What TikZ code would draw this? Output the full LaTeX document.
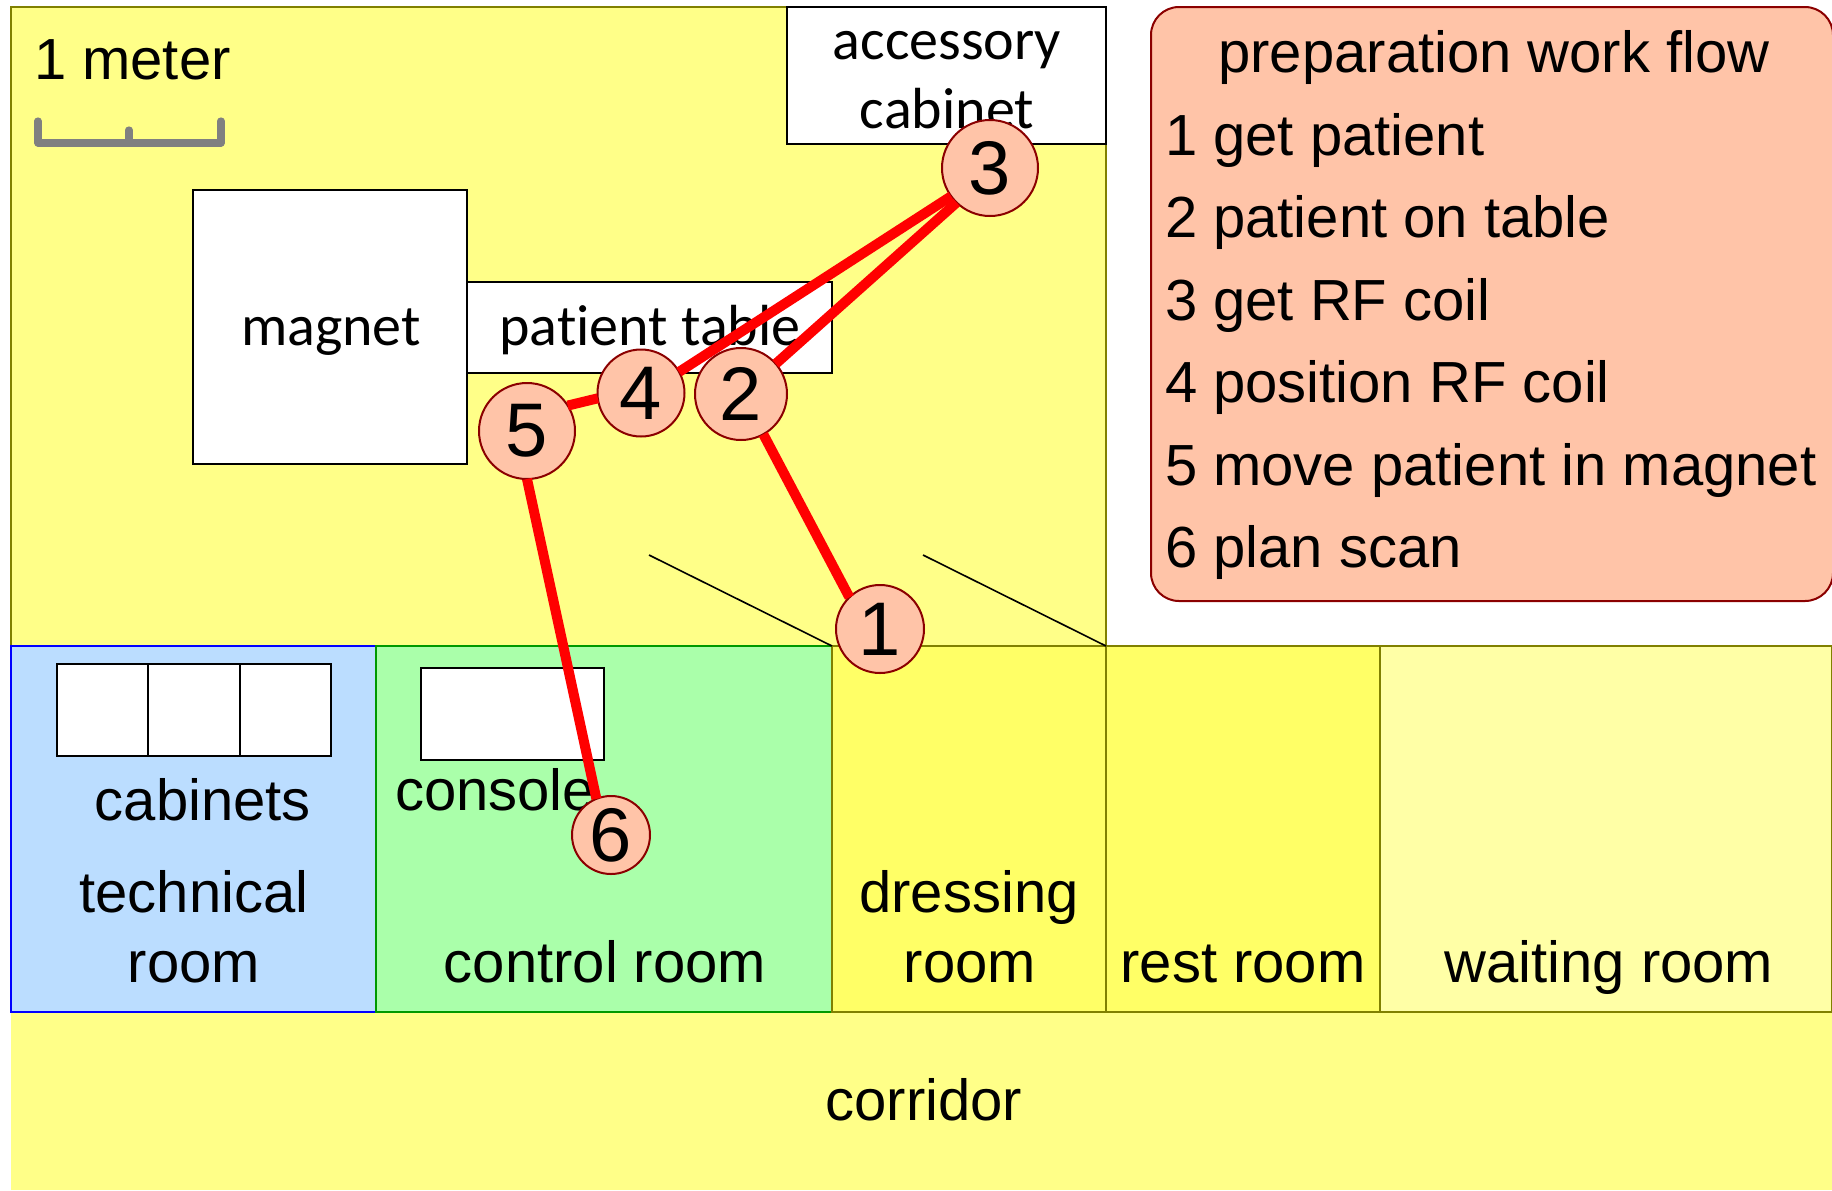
\documentclass[tikz,border=0pt]{standalone}
\usepackage{fontspec}
\setmainfont{Liberation Sans}
\newfontfamily\carlito[Ligatures=NoCommon]{Carlito}
\usetikzlibrary{positioning}
\definecolor{hallyellow}{HTML}{FFFF88}
\definecolor{wallolive}{HTML}{808000}
\definecolor{techblue}{HTML}{BBDDFF}
\definecolor{controlgreen}{HTML}{AAFFAA}
\definecolor{dressyellow}{HTML}{FFFF66}
\definecolor{waityellow}{HTML}{FFFFA6}
\definecolor{stepfill}{HTML}{FFC4A8}
\definecolor{stepedge}{HTML}{8B0000}
\begin{document}
\begin{tikzpicture}[x=0.5pt,y=-0.5pt,
        every node/.style={inner sep=0pt,outer sep=0pt},
        room/.style={draw=wallolive,line width=1pt,minimum height=183pt},
        box/.style={draw=black,line width=1pt,fill=white},
        txt/.style={anchor=base,align=center,font=\fontsize{29}{34.5}\selectfont},
        calibri/.style={anchor=base,align=center,font=\fontsize{29}{34.5}\selectfont\carlito},
        stepnode/.style={circle,draw=stepedge,line width=1pt,fill=stepfill,font=\fontsize{38}{38}\selectfont},
        route/.style={draw=red,line width=5pt}]
            \useasboundingbox (0,0) rectangle (1832,1190);
            \node[room,fill=hallyellow,minimum width=547.5pt,minimum height=319.5pt,anchor=north west] (scanroom) at (11,7) {};
            \node[fill=hallyellow,minimum width=910.5pt,minimum height=89pt,anchor=north west] (corridor) at (11,1012) {};
            \node[room,draw=blue,fill=techblue,minimum width=182.5pt,anchor=north west] (technical) at (11,646) {};
            \node[room,draw=black!40!green,fill=controlgreen,minimum width=228pt,right=0pt of technical] (control) {};
            \node[room,fill=dressyellow,minimum width=137pt,right=0pt of control] (dressing) {};
            \node[room,fill=dressyellow,minimum width=137pt,right=0pt of dressing] (rest) {};
            \node[room,fill=waityellow,minimum width=226pt,right=0pt of rest] (waiting) {};
            \node[box,minimum width=137pt,minimum height=137pt,anchor=north west] (magnet) at (193,190) {};
            \node[box,minimum width=182.5pt,minimum height=45.5pt,right=0pt of magnet] (table) {};
            \node[box,minimum width=159.5pt,minimum height=68.5pt,anchor=north east] (accessory) at (1106,7) {};
            \node[box,minimum width=45.7pt,minimum height=46pt,anchor=north west] (cabinetA) at (57,664) {};
            \node[box,minimum width=45.7pt,minimum height=46pt,right=0pt of cabinetA] (cabinetB) {};
            \node[box,minimum width=45.7pt,minimum height=46pt,right=0pt of cabinetB] (cabinetC) {};
            \node[box,minimum width=91.5pt,minimum height=46pt,anchor=north west] (console) at (421,668) {};
            \node[calibri] (magnetlabel) at (331,345) {magnet};
            \node[calibri] (tablelabel) at (650,345) {patient table};
            \node[calibri] (accessorylabelA) at (947,59) {accessory};
            \node[calibri] (accessorylabelB) at (947,128) {cabinet};
            \node[txt,anchor=base west] (meterlabel) at (34,79) {1 meter};
            \node[txt] (cabinetslabel) at (203,820) {cabinets};
            \node[txt] (consolelabel) at (495,810) {console};
            \node[txt] (technicallabelA) at (194,912) {technical};
            \node[txt] (technicallabelB) at (194,982) {room};
            \node[txt] (controllabel) at (605,982) {control room};
            \node[txt] (dressinglabelA) at (969,912) {dressing};
            \node[txt] (dressinglabelB) at (970,982) {room};
            \node[txt] (restlabel) at (1243,982) {rest room};
            \node[txt] (waitinglabel) at (1609,982) {waiting room};
            \node[txt] (corridorlabel) at (924,1120) {corridor};
            \draw[gray,line width=3.6pt,line join=round,line cap=round] (38,121) |- (221,143) -- (221,121) (129,143) -- (129,130);
            \coordinate (doorA) at (649,555);
            \coordinate (doorB) at (923,555);
            \draw[line width=0.8pt] (doorA) -- (control.north east);
            \draw[line width=0.8pt] (doorB) -- (dressing.north east);
            \node[draw=stepedge,line width=1pt,fill=stepfill,rounded corners=14pt,minimum width=341pt,minimum height=297pt,anchor=north west] (panel) at (1151,7) {};
            \node[txt] (paneltitle) at (1494,72) {preparation work flow};
            \node[txt,anchor=base west] (getpatient) at (1165,155) {1 get patient};
            \node[txt,anchor=base west] (ontable) at (1165,237) {2 patient on table};
            \node[txt,anchor=base west] (getcoil) at (1165,320) {3 get RF coil};
            \node[txt,anchor=base west] (positioncoil) at (1165,402) {4 position RF coil};
            \node[txt,anchor=base west] (movepatient) at (1165,485) {5 move patient in magnet};
            \node[txt,anchor=base west] (planscan) at (1165,567) {6 plan scan};
            \node[stepnode,minimum size=44pt] (1) at (880,629) {1};
            \node[stepnode,minimum size=46pt] (2) at (741,394) {2};
            \node[stepnode,minimum size=48pt] (3) at (990,168) {3};
            \node[stepnode,minimum size=43.5pt] (4) at (641,393) {4};
            \node[stepnode,minimum size=48pt] (5) at (527,431) {5};
            \node[stepnode,minimum size=39pt] (6) at (611,835) {6};
            \draw[route] (2.-61) -- (1.134);
            \draw[route] (2.41) -- (3.226);
            \draw[route] (3.216) -- (4.29);
            \draw[route] (4.187) -- (5.32);
            \draw[route] (5.south) -- (6.112);
        \end{tikzpicture}
\end{document}
